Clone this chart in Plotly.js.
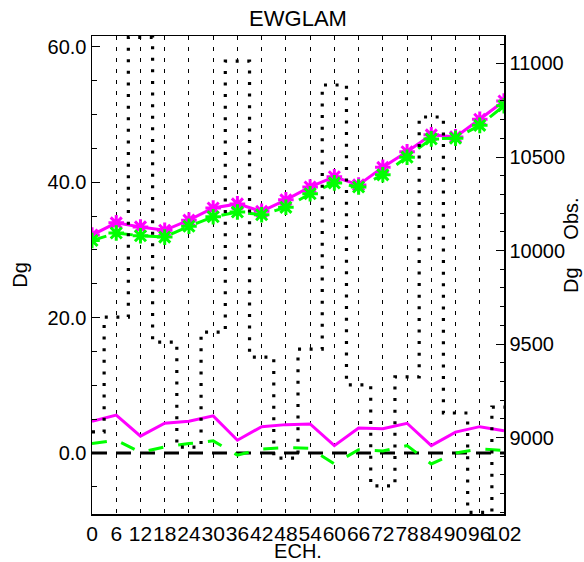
<!DOCTYPE html>
<html>
<head>
<meta charset="utf-8">
<script src="https://cdn.plot.ly/plotly-3.0.1.min.js"></script>
<style>html,body{margin:0;padding:0;background:#fff;}#chart{width:584px;height:562px;}</style>
</head>
<body>
<div id="chart"></div>
<script>
// Forecast ranges (ECH.)
const ech = [0, 6, 12, 18, 24, 30, 36, 42, 48, 54, 60, 66, 72, 78, 84, 90, 96, 102];
const echLabels = ech.map(String);
// Number of observations (right axis), histogram style
const obsCount = [9030, 9644, 11140, 9510, 8949, 9564, 11013, 9430, 8890, 9473, 10885, 9281, 8741, 9324, 10714, 9131, 8600, 9163];
// Magenta model: upper (rms-like) and lower (bias-like) curves
const magentaUpper = [32.2, 34.0, 33.4, 32.9, 34.4, 36.2, 36.8, 35.7, 37.4, 39.3, 40.8, 39.6, 42.2, 44.5, 47.0, 46.7, 49.3, 52.0];
const magentaLower = [4.7, 5.6, 2.5, 4.4, 4.7, 5.5, 1.9, 3.9, 4.2, 4.3, 1.1, 3.7, 3.6, 4.4, 1.1, 3.1, 3.9, 3.3];
// Green model: upper and lower curves
const greenUpper = [31.4, 32.5, 32.1, 31.9, 33.5, 34.9, 35.6, 35.2, 36.3, 38.3, 39.9, 39.3, 41.1, 43.7, 46.4, 46.5, 48.4, 51.3];
const greenLower = [1.4, 1.9, 0.1, 0.9, 1.4, 1.8, -0.3, 0.6, 0.8, 0.7, -1.6, 0.5, 0.3, 1.1, -1.6, 0.0, 0.6, 0.4];
const zeroLine = ech.map(() => 0);
const leftTicks = [0, 20, 40, 60];
const leftTickText = ["0.0", "20.0", "40.0", "60.0"];

const FONT = "Liberation Sans, Arial, Helvetica, sans-serif";
const MAG = "#ff00ff";
const GRN = "#00ff00";

const traces = [
  {x: ech, y: obsCount, yaxis: "y2", mode: "lines", line: {shape: "hvh", color: "#000", width: 3.2, dash: "3px,8.6px"}, hoverinfo: "skip"},
  {x: ech, y: zeroLine, mode: "lines", line: {color: "#000", width: 3, dash: "15px,9px"}},
  {x: ech, y: magentaUpper, mode: "lines+markers", line: {color: MAG, width: 3},
   marker: {symbol: "asterisk-open", size: 13, color: MAG, line: {color: MAG, width: 3}}},
  {x: ech, y: magentaLower, mode: "lines", line: {color: MAG, width: 3}},
  {x: ech, y: greenUpper, mode: "lines+markers", line: {color: GRN, width: 3, dash: "15px,12px"},
   marker: {symbol: "asterisk-open", size: 13, color: GRN, line: {color: GRN, width: 3}}},
  {x: ech, y: greenLower, mode: "lines", line: {color: GRN, width: 3, dash: "15px,15px"}}
];

const layout = {
  width: 584, height: 562,
  margin: {l: 92, r: 80, t: 36, b: 48, pad: 0},
  paper_bgcolor: "#fff", plot_bgcolor: "#fff",
  showlegend: false,
  font: {family: FONT, size: 20, color: "#000"},
  title: {text: "EWGLAM", font: {family: FONT, size: 22, color: "#000"}, x: 0.5, xref: "paper", xanchor: "center", y: 1 - 18/562, yref: "container", yanchor: "middle"},
  xaxis: {
    range: [0, 102], tickvals: ech, ticktext: echLabels, tickangle: 0,
    showgrid: true, gridcolor: "#000", gridwidth: 1, griddash: "4px,7px",
    zeroline: false, showline: true, linecolor: "#000", linewidth: 1.5, mirror: true,
    ticks: "", tickfont: {family: FONT, size: 21, color: "#000"},
    title: {text: "ECH.", font: {family: FONT, size: 20, color: "#000"}, standoff: 0}
  },
  yaxis: {
    range: [-9.0, 61.6], tickvals: leftTicks, ticktext: leftTickText,
    showgrid: false, zeroline: false, showline: true, linecolor: "#000", linewidth: 1.5, mirror: true,
    ticks: "inside", ticklen: 8, tickcolor: "#000", tickwidth: 1,
    minor: {dtick: 5, tick0: 0, ticks: "inside", ticklen: 5, tickcolor: "#000", showgrid: false},
    tickfont: {family: FONT, size: 20, color: "#000"},
    title: {text: "Dg", font: {family: FONT, size: 20, color: "#000"}, standoff: 14}
  },
  yaxis2: {
    overlaying: "y", side: "right", range: [8591, 11147],
    tick0: 9000, dtick: 500, tickformat: "d",
    showgrid: false, zeroline: false, showline: true, linecolor: "#000", linewidth: 1.5,
    ticks: "inside", ticklen: 8, tickcolor: "#000", tickwidth: 1,
    minor: {dtick: 100, tick0: 9000, ticks: "inside", ticklen: 4, tickcolor: "#000", showgrid: false},
    tickfont: {family: FONT, size: 20, color: "#000"}
  },
  annotations: [
    {text: "Dg\u00a0\u00a0\u00a0\u00a0\u00a0Obs.", textangle: -90, xref: "paper", yref: "paper",
     x: (571 - 92) / 412, y: (514 - 245) / 478, xanchor: "center", yanchor: "middle",
     showarrow: false, font: {family: FONT, size: 20, color: "#000"}}
  ]
};

Plotly.newPlot("chart", traces, layout, {staticPlot: true, displayModeBar: false});
</script>
</body>
</html>
